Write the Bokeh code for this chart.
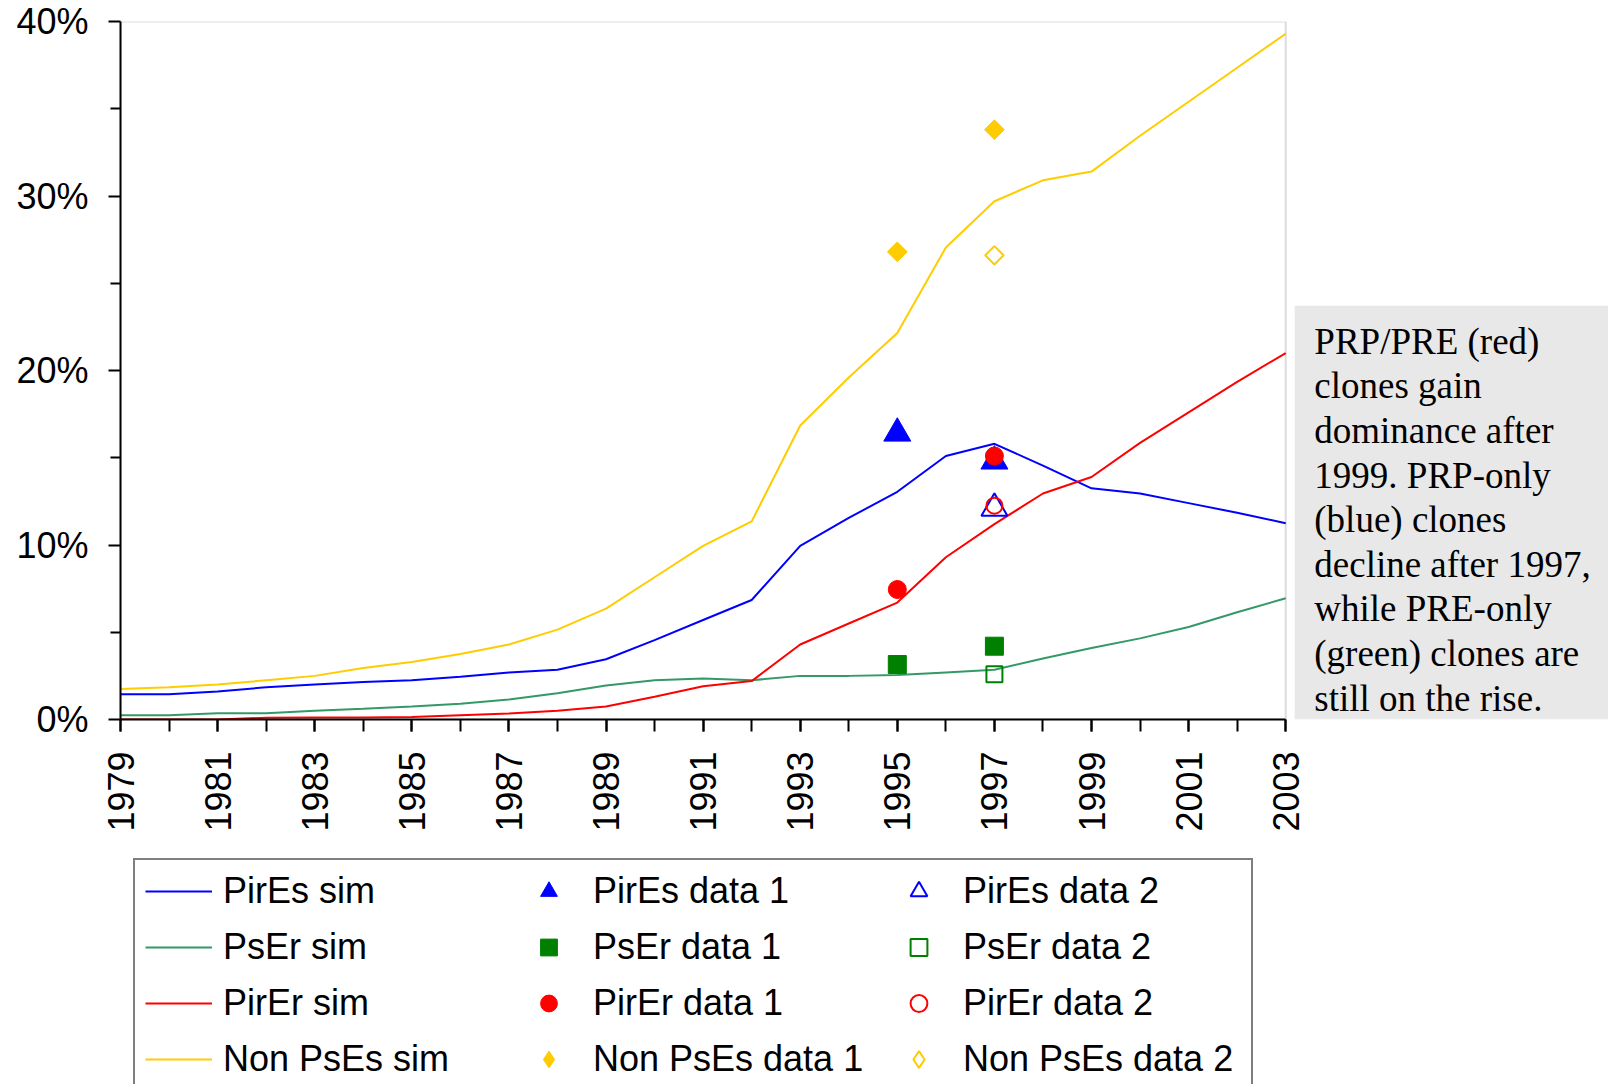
import numpy as np
from bokeh.plotting import figure
from bokeh.layouts import column
from bokeh.models import (Legend, LegendItem, FixedTicker, PrintfTickFormatter,
                          Range1d, BoxAnnotation, Label)
from bokeh.embed import file_html
from bokeh.resources import INLINE

# ---------------- data ----------------
years = list(range(1979, 2004))
pires_sim = [1.45, 1.45, 1.6, 1.85, 2.0, 2.15, 2.25, 2.45, 2.7, 2.85, 3.45, 4.55, 5.7,
             6.85, 9.95, 11.55, 13.05, 15.1, 15.8, 14.55, 13.25, 12.95, 12.4, 11.85, 11.25]
pser_sim = [0.25, 0.25, 0.36, 0.36, 0.5, 0.62, 0.75, 0.9, 1.15, 1.5, 1.95, 2.25, 2.35,
            2.25, 2.5, 2.5, 2.55, 2.7, 2.85, 3.5, 4.1, 4.65, 5.3, 6.15, 6.95]
pirer_sim = [0.0, 0.0, 0.0, 0.1, 0.12, 0.12, 0.15, 0.25, 0.35, 0.5, 0.75, 1.3, 1.9,
             2.2, 4.3, 5.5, 6.7, 9.3, 11.2, 12.95, 13.9, 15.85, 17.6, 19.35, 21.0]
nonpses_sim = [1.75, 1.85, 2.0, 2.25, 2.5, 2.95, 3.3, 3.75, 4.3, 5.15, 6.35, 8.15, 9.95,
               11.35, 16.85, 19.6, 22.15, 27.05, 29.7, 30.9, 31.4, 33.45, 35.4, 37.35, 39.3]

data1_years = [1995, 1997]
pires_d1 = [16.4, 14.8]
pser_d1 = [3.15, 4.2]
pirer_d1 = [7.45, 15.1]
nonpses_d1 = [26.8, 33.8]

data2_years = [1997]
pires_d2 = [12.1]
pser_d2 = [2.6]
pirer_d2 = [12.25]
nonpses_d2 = [26.6]

x_major = list(range(1979, 2004, 2))
y_major = [0, 10, 20, 30, 40]
y_minor = [5, 15, 25, 35]

note_lines = ["PRP/PRE (red)", "clones gain", "dominance after", "1999.  PRP-only",
              "(blue) clones", "decline after 1997,", "while PRE-only",
              "(green) clones are", "still on the rise."]

BLUE = "#0000FF"
GREEN_L = "#339966"
GREEN_M = "#008000"
RED = "#FF0000"
YELLOW = "#FFCC00"

# ---------------- geometry (pixels) ----------------
W = 1608
LEFT = 119            # y axis position
PLOT_W = 1166         # 1979 .. 2003
TOP = 21
PLOT_H = 698          # 0 .. 40 %
H_MAIN = 845
H_LEG = 1084 - H_MAIN

X0, X1 = years[0], years[-1]
px_per_year = PLOT_W / (X1 - X0)
px_per_pct = PLOT_H / 40.0
x_end = X0 + (W - LEFT) / px_per_year

p = figure(width=W, height=H_MAIN, output_backend="svg", toolbar_location=None,
           x_range=Range1d(X0, x_end), y_range=Range1d(0, 40),
           min_border_left=LEFT, min_border_right=0, min_border_top=TOP,
           min_border_bottom=H_MAIN - TOP - PLOT_H)
p.grid.visible = False
p.outline_line_color = None
p.background_fill_color = "white"
p.border_fill_color = "white"

# plot-area border (gray)
p.add_layout(BoxAnnotation(left=X0, right=X1, bottom=0, top=40, fill_alpha=0,
                           line_color="#8c8c8c", line_width=2, level="underlay"))

# note box
p.add_layout(BoxAnnotation(left=X1 + 9 / px_per_year, top=(719.3 - 305.6) / px_per_pct,
                           fill_color="#E8E8E8", fill_alpha=1, line_color=None,
                           level="underlay"))
line_step = 44.6 / px_per_pct
first_y = (719.3 - 341) / px_per_pct
for i, t in enumerate(note_lines):
    p.add_layout(Label(x=X1 + 28.6 / px_per_year, y=first_y - i * line_step, text=t,
                       text_font="Liberation Serif", text_font_size="37px",
                       text_color="black", text_baseline="middle", text_align="left"))

# axes
xa = p.xaxis[0]
xa.bounds = (X0, X1)
xa.ticker = FixedTicker(ticks=x_major, minor_ticks=years)
xa.major_label_orientation = np.pi / 2
xa.axis_line_color = "black"
xa.axis_line_width = 2
xa.major_tick_line_width = 2
xa.minor_tick_line_width = 2
xa.major_tick_out = 12
xa.major_tick_in = 0
xa.minor_tick_out = 12
xa.minor_tick_in = 0
xa.major_label_standoff = 20
xa.major_label_text_font = "Liberation Sans"
xa.major_label_text_font_size = "36px"
xa.major_label_text_color = "black"

ya = p.yaxis[0]
ya.bounds = (0, 40)
ya.ticker = FixedTicker(ticks=y_major, minor_ticks=y_minor)
ya.formatter = PrintfTickFormatter(format="%d%%")
ya.axis_line_color = "black"
ya.axis_line_width = 2
ya.major_tick_line_width = 2
ya.minor_tick_line_width = 2
ya.major_tick_out = 12
ya.major_tick_in = 0
ya.minor_tick_out = 10
ya.minor_tick_in = 0
ya.major_label_standoff = 20
ya.major_label_text_font = "Liberation Sans"
ya.major_label_text_font_size = "36px"
ya.major_label_text_color = "black"

# sim lines
line_kw = dict(line_width=2)
p.line(years, pires_sim, line_color=BLUE, **line_kw)
p.line(years, pser_sim, line_color=GREEN_L, **line_kw)
p.line(years, pirer_sim, line_color=RED, **line_kw)
p.line(years, nonpses_sim, line_color=YELLOW, **line_kw)

# marker styles
st_d1 = {
    "pires": dict(marker="triangle", size=27, fill_color=BLUE, line_color=BLUE),
    "pser": dict(marker="square", size=18, fill_color=GREEN_M, line_color=GREEN_M),
    "pirer": dict(marker="circle", size=18, fill_color=RED, line_color=RED),
    "non": dict(marker="square", angle=np.pi / 4, size=14, fill_color=YELLOW, line_color=YELLOW),
}
st_d2 = {
    "pires": dict(marker="triangle", size=26, fill_color=None, line_color=BLUE, line_width=2),
    "pser": dict(marker="square", size=16, fill_color=None, line_color=GREEN_M, line_width=2),
    "pirer": dict(marker="circle", size=16, fill_color=None, line_color=RED, line_width=2),
    "non": dict(marker="square", angle=np.pi / 4, size=13, fill_color=None, line_color=YELLOW, line_width=2),
}
p.scatter(data1_years, pires_d1, **st_d1["pires"])
p.scatter(data1_years, pser_d1, **st_d1["pser"])
p.scatter(data1_years, pirer_d1, **st_d1["pirer"])
p.scatter(data1_years, nonpses_d1, **st_d1["non"])
p.scatter(data2_years, pires_d2, **st_d2["pires"])
p.scatter(data2_years, pser_d2, **st_d2["pser"])
p.scatter(data2_years, pirer_d2, **st_d2["pirer"])
p.scatter(data2_years, nonpses_d2, **st_d2["non"])

# ---------------- legend figure ----------------
q = figure(width=W, height=H_LEG, output_backend="svg", toolbar_location=None,
           x_axis_location=None, y_axis_location=None,
           x_range=Range1d(0, 1), y_range=Range1d(0, 1),
           min_border_left=120, min_border_right=0, min_border_top=0, min_border_bottom=0)
q.grid.visible = False
q.outline_line_color = None
q.background_fill_color = "white"
q.border_fill_color = "white"

# legend swatches: the legend ignores marker angles, so use the diamond marker there
lg_st_d1 = dict(st_d1)
lg_st_d1["non"] = dict(marker="diamond", size=20, fill_color=YELLOW, line_color=YELLOW)
lg_st_d2 = dict(st_d2)
lg_st_d2["non"] = dict(marker="diamond", size=20, fill_color=None, line_color=YELLOW, line_width=2)

# legend-only renderers (a single NaN row: nothing is drawn in the frame)
nan = [np.nan]
lg_sim = [q.line(x=nan, y=nan, line_color=c, line_width=2)
          for c in (BLUE, GREEN_L, RED, YELLOW)]
lg_d1 = [q.scatter(x=nan, y=nan, **lg_st_d1[k]) for k in ("pires", "pser", "pirer", "non")]
lg_d2 = [q.scatter(x=nan, y=nan, **lg_st_d2[k]) for k in ("pires", "pser", "pirer", "non")]
names = ["PirEs", "PsEr", "PirEr", "Non PsEs"]
items = ([LegendItem(label=f"{n} sim", renderers=[r]) for n, r in zip(names, lg_sim)] +
         [LegendItem(label=f"{n} data 1", renderers=[r]) for n, r in zip(names, lg_d1)] +
         [LegendItem(label=f"{n} data 2", renderers=[r]) for n, r in zip(names, lg_d2)])
legend = Legend(items=items, location="top_left", orientation="vertical", nrows=4)
legend.border_line_color = "black"
legend.border_line_width = 2
legend.background_fill_color = "white"
legend.background_fill_alpha = 1
legend.label_text_font = "Liberation Sans"
legend.label_text_font_size = "36px"
legend.label_text_color = "black"
legend.glyph_width = 67
legend.glyph_height = 42
legend.label_height = 42
legend.label_standoff = 11
legend.label_width = 278
legend.spacing = 14
legend.padding = 10
legend.margin = 13
q.add_layout(legend)

layout = column(p, q, spacing=0)
open("out.html", "w").write(file_html(layout, INLINE))
